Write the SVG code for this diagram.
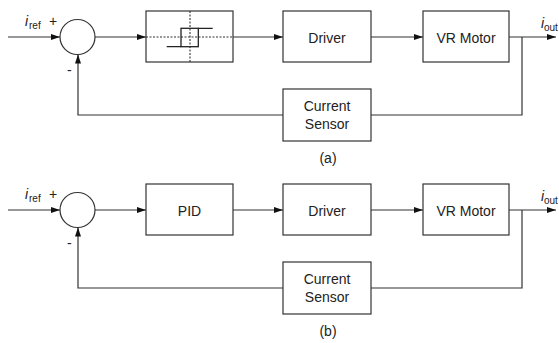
<svg xmlns="http://www.w3.org/2000/svg" width="559" height="343" viewBox="0 0 559 343">
<style>
.ln{fill:none;stroke:#333;stroke-width:1.2}
.bx{fill:#fff;stroke:#333;stroke-width:1.2}
.ds{fill:none;stroke:#333;stroke-width:1.1;stroke-dasharray:2,1.5}
text{font-family:"Liberation Sans",Arial,sans-serif;font-size:14px;fill:#222}
.c{text-anchor:middle}
.it{font-style:italic}
.sub{font-size:10px}
</style>
<defs>
<marker id="ar" markerUnits="userSpaceOnUse" markerWidth="10" markerHeight="7" refX="9" refY="3" orient="auto">
<path d="M0,0 L9,3 L0,6 z" fill="#111"/>
</marker>
</defs>

<g id="diagram-a">
<g id="connectors-a">
<path class="ln" d="M8,37 H60" marker-end="url(#ar)"/>
<path class="ln" d="M95,37 H146" marker-end="url(#ar)"/>
<path class="ln" d="M233,37 H283" marker-end="url(#ar)"/>
<path class="ln" d="M371,37 H423" marker-end="url(#ar)"/>
<path class="ln" d="M509,37 H556" marker-end="url(#ar)"/>
<path class="ln" d="M522,37 V115 H371"/>
<path class="ln" d="M283,115 H78 V54.5" marker-end="url(#ar)"/>
</g>
<g id="sum-a">
<circle class="bx" cx="77.5" cy="37" r="17.5"/>
<text x="25" y="26" class="it">i</text><text x="29" y="29" class="sub">ref</text>
<text x="49" y="26">+</text>
<text x="67" y="75">-</text>
</g>
<g id="hysteresis">
<rect class="bx" x="146" y="11" width="87" height="51"/>
<path class="ds" d="M146,37 H233 M190,11 V62"/>
<rect x="181" y="28.3" width="17.3" height="18.4" fill="none" stroke="#222" stroke-width="1.3"/>
<path d="M166.7,46.7 H181 M198.3,28.3 H212.7" fill="none" stroke="#222" stroke-width="1.3"/>
</g>
<g id="driver-a">
<rect class="bx" x="283" y="11" width="88" height="51"/>
<text x="327" y="42.5" class="c">Driver</text>
</g>
<g id="motor-a">
<rect class="bx" x="423" y="11" width="86" height="51"/>
<text x="466" y="42.5" class="c">VR Motor</text>
</g>
<g id="sensor-a">
<rect class="bx" x="283" y="89" width="88" height="52"/>
<text x="327" y="111" class="c">Current</text>
<text x="327" y="129" class="c">Sensor</text>
</g>
<text x="541" y="28" class="it">i</text><text x="544" y="31" class="sub">out</text>
<text x="328" y="163" class="c">(a)</text>
</g>

<g id="diagram-b">
<g id="connectors-b">
<path class="ln" d="M8,210 H60" marker-end="url(#ar)"/>
<path class="ln" d="M95,210 H146" marker-end="url(#ar)"/>
<path class="ln" d="M233,210 H283" marker-end="url(#ar)"/>
<path class="ln" d="M371,210 H423" marker-end="url(#ar)"/>
<path class="ln" d="M509,210 H556" marker-end="url(#ar)"/>
<path class="ln" d="M522,210 V288 H371"/>
<path class="ln" d="M283,288 H78 V227.5" marker-end="url(#ar)"/>
</g>
<g id="sum-b">
<circle class="bx" cx="77.5" cy="210" r="17.5"/>
<text x="25" y="199" class="it">i</text><text x="29" y="202" class="sub">ref</text>
<text x="49" y="199">+</text>
<text x="67" y="248">-</text>
</g>
<g id="pid">
<rect class="bx" x="146" y="184" width="87" height="51"/>
<text x="189.5" y="215.5" class="c">PID</text>
</g>
<g id="driver-b">
<rect class="bx" x="283" y="184" width="88" height="51"/>
<text x="327" y="215.5" class="c">Driver</text>
</g>
<g id="motor-b">
<rect class="bx" x="423" y="184" width="86" height="51"/>
<text x="466" y="215.5" class="c">VR Motor</text>
</g>
<g id="sensor-b">
<rect class="bx" x="283" y="262" width="88" height="52"/>
<text x="327" y="284" class="c">Current</text>
<text x="327" y="302" class="c">Sensor</text>
</g>
<text x="541" y="201" class="it">i</text><text x="544" y="204" class="sub">out</text>
<text x="328" y="336" class="c">(b)</text>
</g>
</svg>
